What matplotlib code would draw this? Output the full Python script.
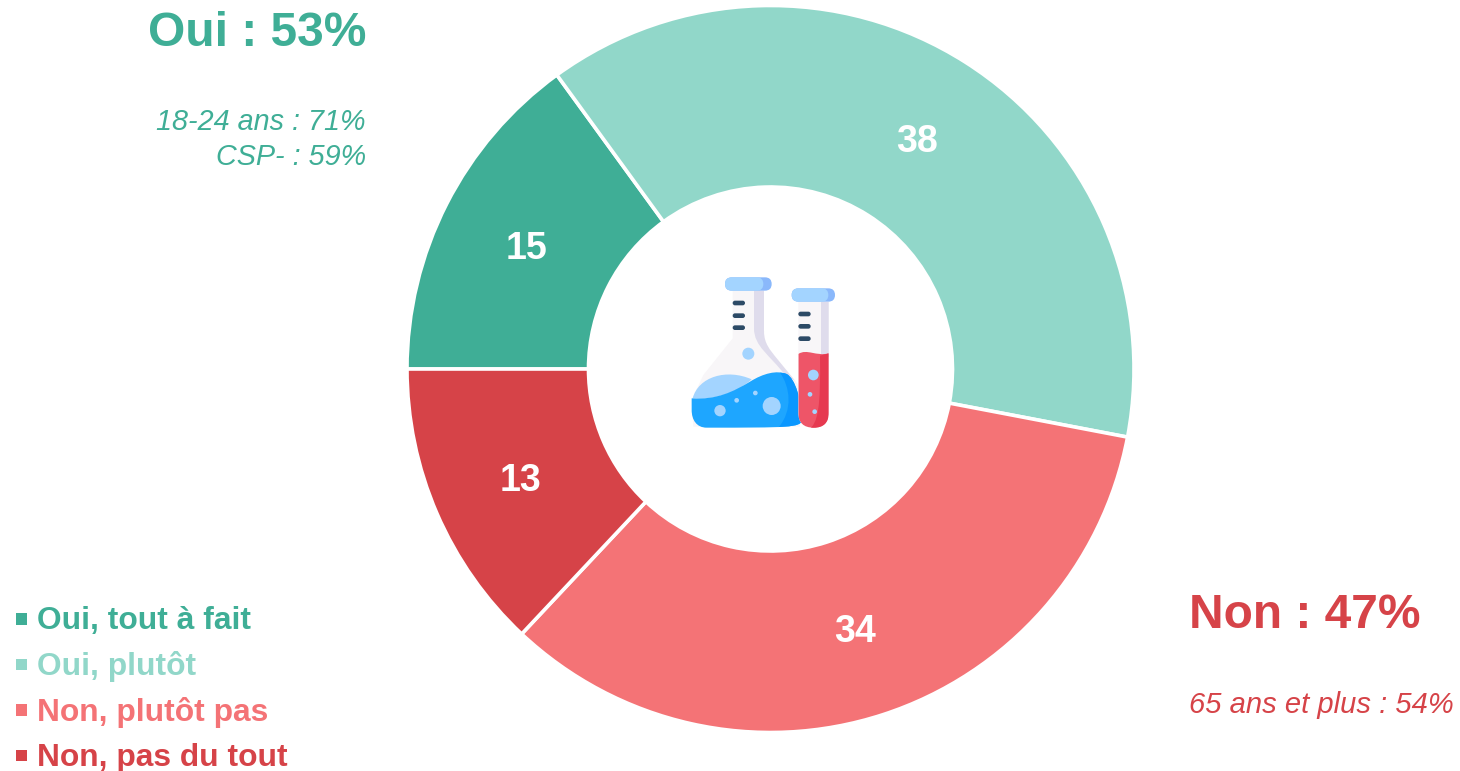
import matplotlib
matplotlib.use("Agg")
from matplotlib import pyplot as plt
from matplotlib.patches import Circle, FancyBboxPatch, PathPatch, Rectangle
from matplotlib.path import Path

plt.rcParams["font.family"] = ["Liberation Sans", "DejaVu Sans"]

categories = ["Oui, tout à fait", "Oui, plutôt", "Non, plutôt pas", "Non, pas du tout"]
values = [15, 38, 34, 13]
colors = ["#3fae96", "#91d7c9", "#f47376", "#d64348"]
oui_title = "Oui : 53%"
oui_notes = ["18-24 ans : 71%", "CSP- : 59%"]
non_title = "Non : 47%"
non_notes = ["65 ans et plus : 54%"]

W, H = 1460, 771

fig = plt.figure(figsize=(W / 100, H / 100), dpi=100)
ax = fig.add_axes([0, 0, 1, 1])

wedges, _ = ax.pie(
    values,
    colors=colors,
    startangle=180,
    counterclock=False,
    center=(770.5, H - 369),
    radius=363.5,
    wedgeprops={"width": 181.5, "edgecolor": "white", "linewidth": 2.6},
)
ax.set_xlim(0, W)
ax.set_ylim(0, H)
ax.set_aspect("equal")
ax.axis("off")

# value labels, placed by hand like in the original slide
for val, px, py in zip(values, [527, 917, 855, 521], [249, 142, 632, 481]):
    ax.text(px, H - py, str(val), color="white", fontsize=27, fontweight="bold",
            ha="center", va="center")

ax.text(366, H - 33, oui_title, color=colors[0], fontsize=34.5, fontweight="bold",
        ha="right", va="center")
for note, py in zip(oui_notes, [122, 157]):
    ax.text(366, H - py, note, color=colors[0], fontsize=20.7, style="italic",
            ha="right", va="center")

ax.text(1189, H - 615, non_title, color=colors[3], fontsize=34.5, fontweight="bold",
        ha="left", va="center")
for note, py in zip(non_notes, [705]):
    ax.text(1454, H - py, note, color=colors[3], fontsize=21, style="italic",
            ha="right", va="center")

# legend
for name, col, py in zip(categories, colors, [618.5, 664, 709.5, 755]):
    ax.add_patch(Rectangle((15.5, H - py - 6), 11.5, 11.5, color=col, lw=0))
    ax.text(37, H - py - 3, name, color=col, fontsize=22.85, fontweight="bold",
            ha="left", va="center")

# flask icon, inset in 3x zoom coordinates
icon = fig.add_axes([670 / W, 1 - 440 / H, 180 / W, 180 / H])
icon.set_xlim(0, 540)
icon.set_ylim(540, 0)
icon.axis("off")
icon.patch.set_alpha(0)

M, L, C, Q, Z = Path.MOVETO, Path.LINETO, Path.CURVE4, Path.CURVE3, Path.CLOSEPOLY


def shape(verts, codes, col, clip=None, z=2):
    p = PathPatch(Path(verts, codes), fc=col, ec="none", zorder=z)
    icon.add_patch(p)
    if clip is not None:
        p.set_clip_path(clip)
    return p


def box(x, y, w, h, col, z=2):
    r = min(w, h) / 2
    icon.add_patch(FancyBboxPatch((x + r, y + r), w - 2 * r, h - 2 * r,
                                  boxstyle=f"round,pad={r}", fc=col, ec="none", zorder=z))


# flask body
shape(
    [(188, 92), (282, 92), (282, 215), (282, 250), (300, 270), (320, 295), (390, 380),
     (390, 500), (70, 500), (65, 420), (100, 345), (188, 235), (188, 92)],
    [M, L, L, C, C, C, L, L, L, L, L, L, Z],
    "#f8f6f8",
)
shape(
    [(252, 92), (282, 92), (282, 215), (282, 250), (300, 270), (320, 295), (375, 362),
     (345, 345), (300, 285), (252, 260), (252, 205), (252, 92), (252, 92)],
    [M, L, L, C, C, C, L, L, C, C, C, L, Z],
    "#dfdcec", z=3,
)
shape(
    [(68, 415), (85, 350), (170, 325), (245, 358), (200, 400), (130, 420), (68, 415), (68, 415)],
    [M, C, C, C, C, C, C, Z],
    "#a3d4ff", z=4,
)
liquid = shape(
    [(65, 415), (140, 420), (190, 395), (240, 365), (280, 340), (320, 330), (350, 342),
     (375, 355), (395, 420), (395, 480), (395, 503), (350, 503), (110, 503),
     (80, 503), (65, 480), (65, 450), (65, 415)],
    [M, C, C, C, C, C, C, C, C, C, C, C, L, C, C, C, Z],
    "#1ea6ff", z=5,
)
shape(
    [(330, 338), (360, 380), (370, 450), (325, 503), (400, 503), (400, 338), (330, 338)],
    [M, C, C, C, L, L, Z],
    "#0a97ff", clip=liquid, z=6,
)
box(165, 52, 140, 40, "#8ab8fb", z=6.5)
box(165, 52, 115, 40, "#a3d4ff", z=7)

# test tube
tube = shape(
    [(385, 125), (476, 125), (476, 458), (476, 503), (431, 503), (385, 503), (385, 458), (385, 125)],
    [M, L, L, Q, Q, Q, Q, Z],
    "#f8f6f8", z=8,
)
shape([(452, 125), (476, 125), (476, 290), (452, 290), (452, 125)], [M, L, L, L, Z], "#dfdcec", clip=tube, z=9)
shape(
    [(385, 282), (410, 265), (440, 290), (476, 280), (476, 510), (385, 510), (385, 282)],
    [M, C, C, C, L, L, Z],
    "#ee5568", clip=tube, z=10,
)
shape(
    [(450, 287), (476, 280), (476, 510), (415, 510), (445, 490), (452, 440), (450, 287), (450, 287)],
    [M, L, L, L, C, C, C, Z],
    "#e63950", clip=tube, z=11,
)
box(365, 85, 130, 40, "#8ab8fb", z=12)
box(365, 85, 110, 40, "#a3d4ff", z=13)

# ticks and bubbles
for x0, ys in [(188, [122, 160, 196]), (385, [155, 192, 229])]:
    for y0 in ys:
        box(x0, y0, 37, 14, "#2c4a66", z=14)
for cx, cy, r in [(235, 281, 18), (150, 452, 17), (305, 438, 27), (200, 421, 7), (256, 399, 7),
                  (430, 345, 16), (420, 403, 7), (434, 455, 7)]:
    icon.add_patch(Circle((cx, cy), r, fc="#a3d4ff", ec="none", zorder=15))

fig.savefig("out.png", dpi=100)
